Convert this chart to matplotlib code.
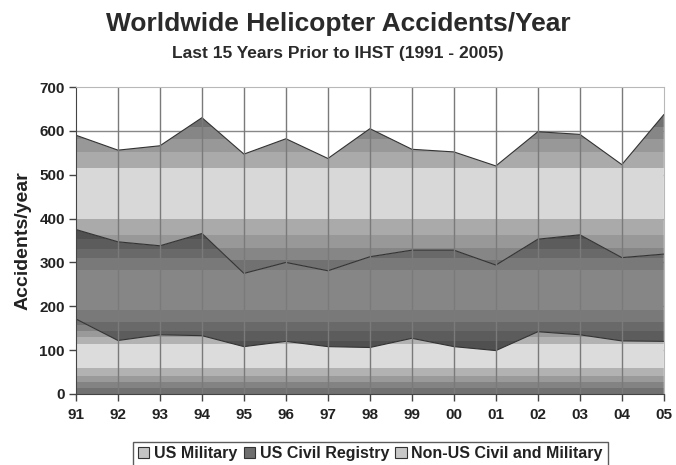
import matplotlib
matplotlib.use("Agg")
import matplotlib.pyplot as plt
from matplotlib.patches import Patch
import numpy as np

plt.rcParams['font.family'] = ['Liberation Sans', 'DejaVu Sans']
plt.rcParams['font.weight'] = 'bold'

years = list(range(1991, 2006))
us_military = [171, 122, 135, 133, 108, 120, 108, 106, 127, 108, 99, 142, 135, 121, 120]
us_civil = [204, 225, 203, 233, 167, 180, 173, 207, 201, 220, 195, 211, 228, 190, 199]
non_us = [215, 209, 228, 264, 272, 282, 256, 292, 230, 224, 226, 245, 229, 212, 318]
series_names = ["US Military", "US Civil Registry", "Non-US Civil and Military"]

# banded "gradient" fills: centre level first, edge level last
band_breaks = [0.32, 0.52, 0.68, 0.84]
band_levels = [
    [0xdc, 0xb2, 0x9a, 0x84, 0x72],
    [0x86, 0x7a, 0x6a, 0x5c, 0x50],
    [0xd8, 0xaa, 0x98, 0x86, 0x72],
]
legend_colors = ["#c4c4c4", "#6e6e6e", "#c8c8c8"]

x = np.array(years)
layers = np.array([us_military, us_civil, non_us], dtype=float)
tops = np.cumsum(layers, axis=0)
bottoms = np.vstack([np.zeros(len(years)), tops[:-1]])

fig = plt.figure(figsize=(6.76, 4.65), dpi=100)
ax = fig.add_axes([0.1124, 0.1527, 0.8696, 0.6602])

for i in range(3):
    lo, hi = bottoms[i], tops[i]
    ymin, ymax = lo.min(), hi.max()
    c = (ymin + ymax) / 2
    h = (ymax - ymin) / 2
    ys = np.linspace(ymax, ymin, 800)
    t = np.abs(ys - c) / h
    idx = np.searchsorted(band_breaks, t)
    g = np.array(band_levels[i])[idx] / 255.0
    img = np.repeat(g[:, None], 2, axis=1)
    poly = ax.fill_between(x, lo, hi, facecolor='none', edgecolor='none', zorder=2)
    im = ax.imshow(img, cmap='gray', vmin=0, vmax=1, aspect='auto',
                   extent=[x[0], x[-1], ymin, ymax], interpolation='nearest', zorder=2)
    im.set_clip_path(poly.get_paths()[0], transform=ax.transData)
    ax.plot(x, hi, color='#333333', lw=0.8, zorder=3)

ax.set_xlim(x[0], x[-1])
ax.set_ylim(0, 700)
ax.set_yticks(range(0, 701, 100))
ax.set_xticks(x)
ax.set_xticklabels([f"{yr % 100:02d}" for yr in years])

for yv in range(100, 700, 100):
    ax.axhline(yv, color='#888888', lw=1.0, zorder=1)
for xv in x[1:-1]:
    ax.axvline(xv, color='#7a7a7a', lw=1.0, zorder=4)

for s in ['top', 'right']:
    ax.spines[s].set_color('#b8b8b8')
    ax.spines[s].set_zorder(5)
for s in ['left', 'bottom']:
    ax.spines[s].set_color('#444444')
    ax.spines[s].set_zorder(5)
ax.tick_params(axis='both', direction='out', length=5, width=1, color='#444444',
               labelsize=11, pad=3)
ax.tick_params(axis='x', pad=5)
for lab in ax.get_xticklabels() + ax.get_yticklabels():
    lab.set_fontweight('bold')
    lab.set_color('#222222')

ax.set_ylabel("Accidents/year", fontsize=14, fontweight='bold', color='#222222', labelpad=6)

fig.text(0.5, 0.948, "Worldwide Helicopter Accidents/Year", ha='center', va='center',
         fontsize=19, fontweight='bold', color='#2a2a2a')
fig.text(0.5, 0.885, "Last 15 Years Prior to IHST (1991 - 2005)", ha='center', va='center',
         fontsize=12.5, fontweight='bold', color='#2a2a2a')

handles = [Patch(facecolor=legend_colors[i], edgecolor='#333333', lw=0.8) for i in range(3)]
leg = fig.legend(handles, series_names, loc='center', bbox_to_anchor=(0.548, 0.024), ncol=3,
                 frameon=True, fancybox=False, edgecolor='#333333', fontsize=11.5,
                 handlelength=0.7, handleheight=0.7, handletextpad=0.3,
                 columnspacing=0.4, borderpad=0.3, borderaxespad=0)
leg.get_frame().set_linewidth(1.0)
for txt in leg.get_texts():
    txt.set_fontweight('bold')
    txt.set_color('#222222')

fig.savefig("out.png", dpi=100)
